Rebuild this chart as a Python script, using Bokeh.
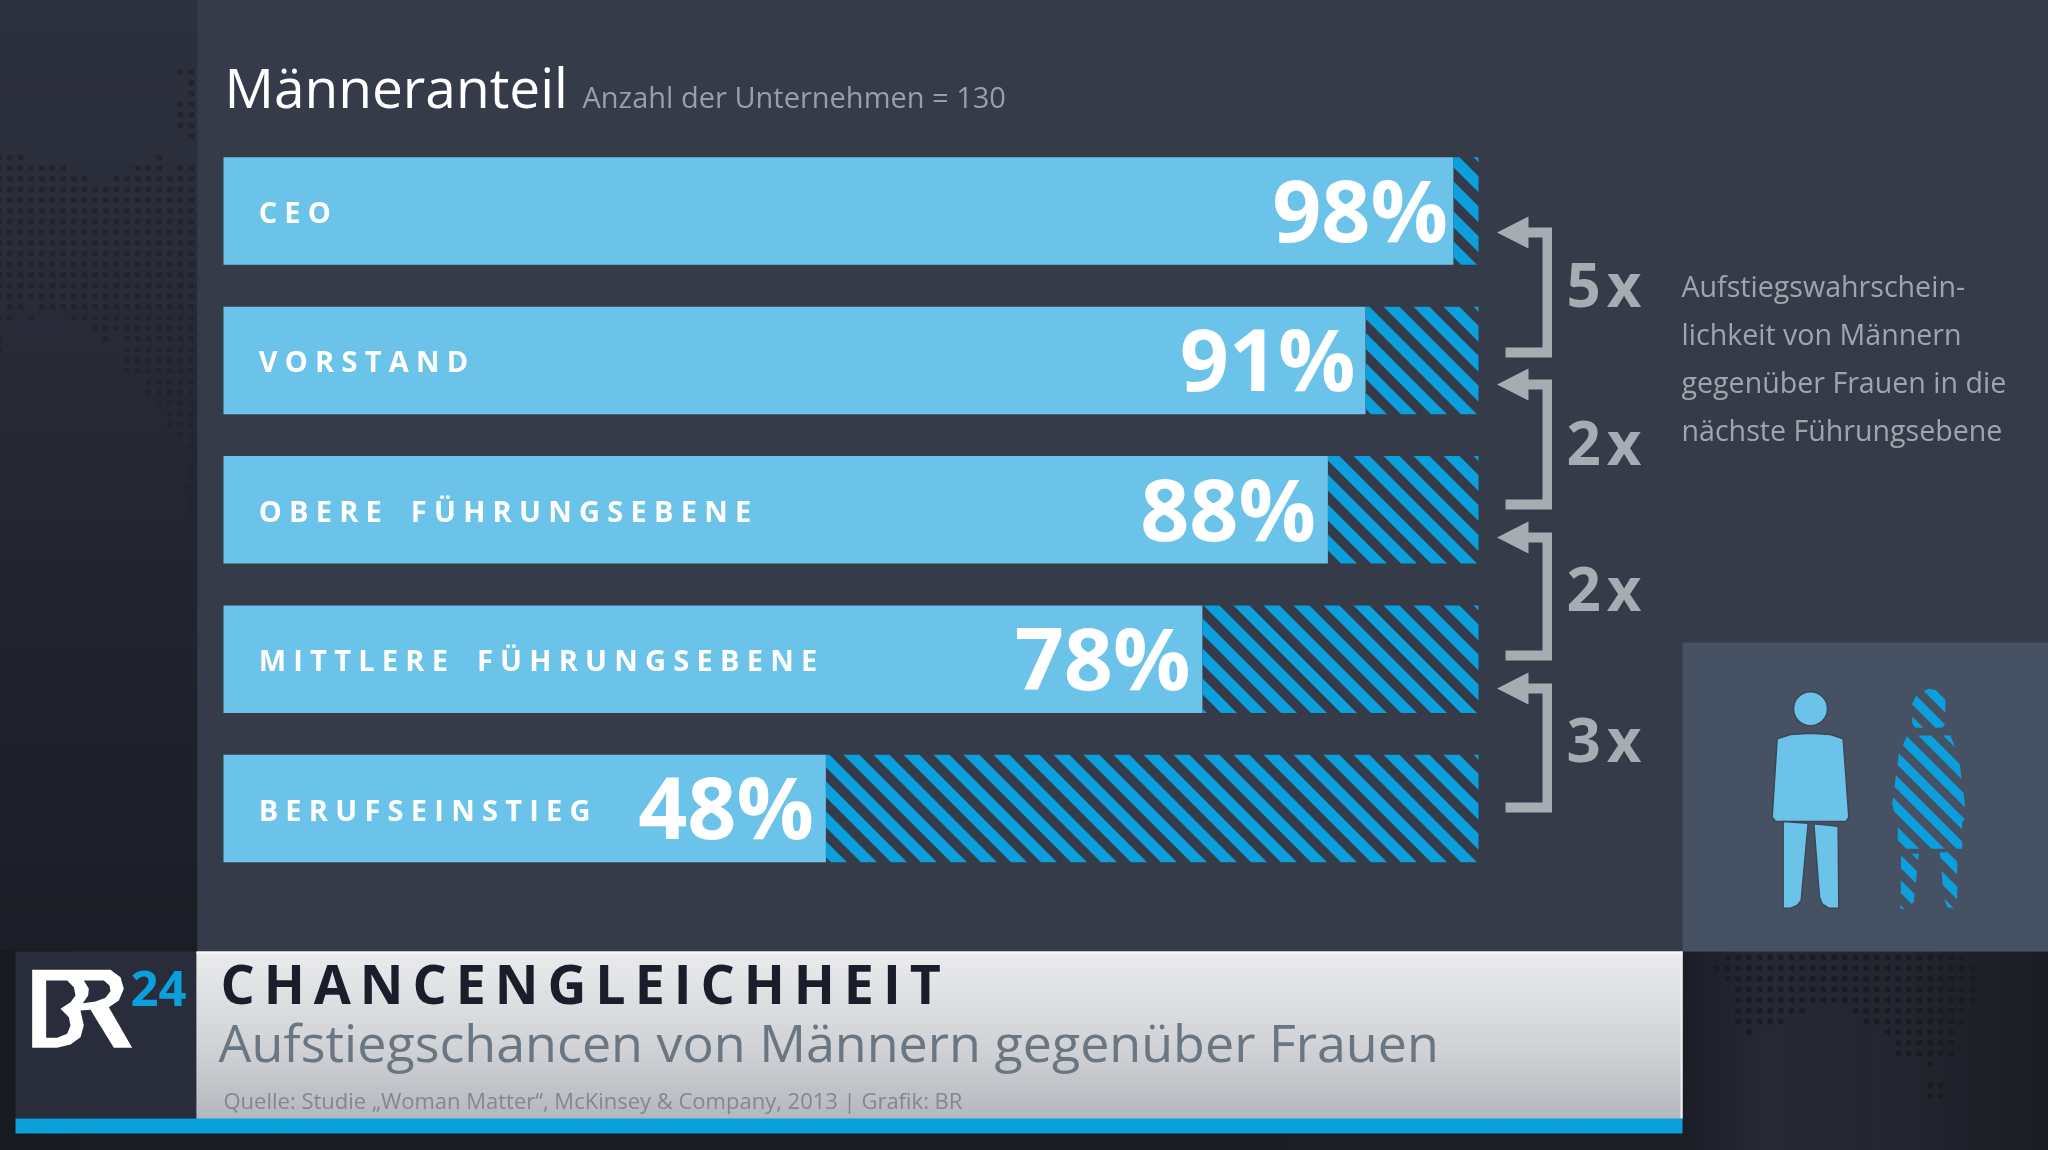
from bokeh.plotting import figure
from bokeh.models import Range1d
from bokeh.core.properties import value
from bokeh.embed import file_html
from bokeh.resources import INLINE

# ---- chart data ----
categories = ["CEO", "VORSTAND", "OBERE FÜHRUNGSEBENE", "MITTLERE FÜHRUNGSEBENE", "BERUFSEINSTIEG"]
men_share = [98, 91, 88, 78, 48]
share_labels = ["98%", "91%", "88%", "78%", "48%"]
multipliers = ["5x", "2x", "2x", "3x"]
note_lines = ["Aufstiegswahrschein-", "lichkeit von Männern", "gegenüber Frauen in die", "nächste Führungsebene"]

# ---- layout ----
W, H = 2048, 1150
PAD = 2
BAR_L, BAR_R = 223.0, 1478.0
ROW0, ROWSTEP = 210.5, 149.4
BAR_H = 107.5
FONT = "Open Sans"
BASE_K = 0.38   # baseline correction of the svg text, in em
pct_nudge = [0.42, 0.05, -0.1, -0.1, -0.1]

BG_MAIN = "#363b4a"
LIGHT = "#6bc3e9"
BLUE = "#0b9fdc"
GREY = "#a5acb2"

unit = (BAR_R - BAR_L) / 100.0
p = figure(width=W + 2 * PAD, height=H + 2 * PAD, output_backend="svg", toolbar_location=None,
           x_range=Range1d((-PAD - BAR_L) / unit, (W + PAD - BAR_L) / unit),
           y_range=Range1d((H + PAD - ROW0) / ROWSTEP, (-PAD - ROW0) / ROWSTEP),
           min_border=0, min_border_left=0, min_border_right=0, min_border_top=0, min_border_bottom=0,
           outline_line_color=None, background_fill_color=BG_MAIN, border_fill_color=BG_MAIN)
p.styles = {"position": "fixed", "left": f"{-PAD}px", "top": f"{-PAD}px"}
p.extra_x_ranges["px"] = Range1d(-PAD, W + PAD)
p.extra_y_ranges["px"] = Range1d(H + PAD, -PAD)
p.xaxis.visible = False
p.yaxis.visible = False
p.xgrid.visible = False
p.ygrid.visible = False
PX = dict(x_range_name="px", y_range_name="px")


def lerp_hex(stops, t):
    for (t0, c0), (t1, c1) in zip(stops, stops[1:]):
        if t <= t1:
            f = (t - t0) / (t1 - t0)
            rgb = [int(round(int(c0[i:i + 2], 16) * (1 - f) + int(c1[i:i + 2], 16) * f)) for i in (1, 3, 5)]
            return "#%02x%02x%02x" % tuple(rgb)
    return stops[-1][1]


def gradient_v(x0, x1, y0, y1, stops, n):
    ys = [y0 + (y1 - y0) * i / n for i in range(n + 1)]
    p.quad(left=x0, right=x1, top=ys[:-1], bottom=[y + 0.6 for y in ys[1:]],
           color=[lerp_hex(stops, (i + 0.5) / n) for i in range(n)], line_color=None, **PX)


def gradient_h(x0, x1, y0, y1, stops, n):
    xs = [x0 + (x1 - x0) * i / n for i in range(n + 1)]
    p.quad(left=xs[:-1], right=[x + 0.6 for x in xs[1:]], top=y0, bottom=y1,
           color=[lerp_hex(stops, (i + 0.5) / n) for i in range(n)], line_color=None, **PX)


def clip_half(poly, a, keep_ge):
    out = []
    n = len(poly)
    for i in range(n):
        x0, y0 = poly[i]
        x1, y1 = poly[(i + 1) % n]
        u0, u1 = x0 - y0 - a, x1 - y1 - a
        if not keep_ge:
            u0, u1 = -u0, -u1
        if u0 >= 0:
            out.append((x0, y0))
        if (u0 >= 0) != (u1 >= 0):
            f = u0 / (u0 - u1)
            out.append((x0 + (x1 - x0) * f, y0 + (y1 - y0) * f))
    return out


def stripes(poly, lo_u, hi_u, period, width):
    xs_out, ys_out = [], []
    b = lo_u
    while b < hi_u:
        c = clip_half(clip_half(poly, b, True), b + width, False)
        if len(c) >= 3:
            xs_out.append([q[0] for q in c])
            ys_out.append([q[1] for q in c])
        b += period
    return xs_out, ys_out


def label(x, y, text, size, color, bold=False, align="left"):
    p.text(x=[x], y=[y - BASE_K * size], text=[text], text_color=color, text_font=value(FONT),
           text_font_style="bold" if bold else "normal", text_font_size=f"{size}px",
           text_align=align, text_baseline="alphabetic", **PX)


def tracked(s, gap, word_gap):
    return word_gap.join(gap.join(w) for w in s.split(" "))


# ---- backgrounds ----
gradient_v(-3, 197, -3, 950, [(0, "#2d313e"), (0.35, "#282b37"), (0.75, "#1f222b"), (1, "#1b1e26")], 120)
gradient_h(-3, 2051, 950, 1153, [(0, "#181a20"), (0.05, "#1a1c23"), (0.82, "#1c1e26"), (0.86, "#262934"),
                                 (0.93, "#23262f"), (1, "#1a1c23")], 300)
p.quad(left=197, right=W + 3, top=-3, bottom=951, color=BG_MAIN, line_color=None, **PX)
p.quad(left=1682, right=W + 3, top=642, bottom=951, color="#465263", line_color=None, **PX)

# ---- dotted world map ----
DOT = 10.667
left_rows = {0: [(0, 1)], 1: [(0, 0)], 2: [(0, 0)], 3: [(0, 1)], 4: [(0, 1)], 5: [(0, 1)], 6: [(0, 0)],
             8: [(3, 3), (16, 18)], 9: [(0, 1), (3, 5), (12, 18)], 10: [(0, 7), (10, 18)],
             22: [(0, 14), (16, 17)], 23: [(0, 11), (15, 15), (17, 18)], 24: [(0, 9)],
             25: [(0, 6), (8, 8), (18, 18)], 26: [(0, 6), (18, 18)], 27: [(0, 6)], 28: [(0, 6)],
             29: [(0, 4)], 30: [(0, 4)], 31: [(0, 3)], 32: [(0, 2)], 33: [(0, 2)], 34: [(0, 1)]}
for r in range(11, 22):
    left_rows[r] = [(0, 18)]
for r in range(35, 44):
    left_rows[r] = [(0, 0)]
lx, ly = [], []
for r, runs in left_rows.items():
    for a, b in runs:
        for c in range(a, b + 1):
            lx.append(190.7 - DOT * c)
            ly.append(71.7 + DOT * r)
p.rect(lx, ly, width=5.2, height=5.2, color="#21242d", line_color=None, **PX)

right_rows = {0: [(0, 22)], 1: [(-1, 23)], 2: [(0, 23)], 3: [(1, 23)], 4: [(1, 23)], 5: [(1, 7), (12, 22)],
              6: [(1, 5), (13, 22)], 7: [(2, 2), (15, 21)], 8: [(16, 21)], 9: [(16, 21)], 10: [(19, 19)],
              12: [(19, 20)], 13: [(19, 20)]}
rx, ry = [], []
for r, runs in right_rows.items():
    for a, b in runs:
        for c in range(a, b + 1):
            rx.append(1727 + DOT * c)
            ry.append(957 + DOT * r)
p.rect(rx, ry, width=5.2, height=5.2, color="#1a1c24", line_color=None, **PX)

# ---- bars ----
ys = list(range(len(men_share)))
p.hbar(y=ys, left=0, right=men_share, height=BAR_H / ROWSTEP, color=LIGHT, line_color=None)

# ---- hatched remainder of each bar ----
sx, sy = [], []
for i, v in enumerate(men_share):
    top = ROW0 + i * ROWSTEP - BAR_H / 2
    bot = top + BAR_H
    left = BAR_L + v * unit
    rect = [(left, top), (BAR_R, top), (BAR_R, bot), (left, bot)]
    start = 1473 - 30 * 40 - top
    a, b = stripes(rect, start, BAR_R - top + 1, 30, 16)
    sx += a
    sy += b
p.patches(sx, sy, color=BLUE, line_color=None, **PX)

# ---- bar texts ----
LBL = 29
p.text(x=[2.8] * 5, y=[y + (11.5 - BASE_K * LBL) / ROWSTEP for y in ys],
       text=[tracked(c, "\u2005", "\u2005\u2002\u2005") for c in categories], text_color="#ffffff",
       text_font=value(FONT), text_font_style="bold", text_font_size=f"{LBL}px",
       text_align="left", text_baseline="alphabetic")
PCT = 86
p.text(x=[v - 0.85 + n for v, n in zip(men_share, pct_nudge)], y=[y + (30 - BASE_K * PCT) / ROWSTEP for y in ys],
       text=share_labels, text_color="#ffffff", text_font=value(FONT), text_font_style="bold",
       text_font_size=f"{PCT}px", text_align="right", text_baseline="alphabetic")

# ---- brackets and arrows ----
tips = [232, 384, 537, 688]
ends = [357, 509, 660, 812]
text_base = [306, 464, 610, 761]
axs, ays = [], []
for t, e in zip(tips, ends):
    axs.append([1496.5, 1528, 1528, 1551.5, 1551.5, 1505, 1505, 1542, 1542, 1528, 1528])
    ays.append([t, t - 16, t - 5, t - 5, e, e, e - 10, e - 10, t + 5, t + 5, t + 16])
p.patches(axs, ays, color=GREY, line_color=None, **PX)
for m, b in zip(multipliers, text_base):
    label(1566, b, m[0] + "\u200a" + m[1], 60, GREY, bold=True)

# ---- note ----
for line, b in zip(note_lines, [296, 344, 392, 440]):
    label(1681, b, line, 28.6, "#a0a5ac")

# ---- headline ----
label(224, 107, "Männeranteil", 55, "#ffffff")
label(582, 107, "Anzahl der Unternehmen = 130", 29, "#9a9fa7")

# ---- people ----
def P3(pts):
    return [(1680 + a / 3.0, 640 + b / 3.0) for a, b in pts]


man_body = P3([(290, 295), (330, 282), (390, 278), (450, 282), (488, 295), (505, 530), (497, 543), (285, 543), (275, 530)])
man_l = P3([(308, 543), (383, 548), (362, 780), (350, 795), (330, 803), (308, 803)])
man_r = P3([(400, 550), (473, 557), (475, 803), (445, 803), (425, 790), (417, 770)])
for shape in (man_body, man_l, man_r):
    p.patch([q[0] for q in shape], [q[1] for q in shape], color=LIGHT, line_color="#3d4656", line_width=1.5, **PX)
p.circle(x=[1810], y=[708.3], radius=17, color=LIGHT, line_color="#3d4656", line_width=1.5, **PX)

woman_parts = [
    [(745, 145), (775, 150), (795, 180), (795, 250), (785, 262), (705, 262), (695, 250), (695, 190), (710, 160)],
    [(680, 285), (810, 285), (835, 350), (858, 530), (845, 545), (845, 625), (652, 625), (652, 555), (635, 490), (655, 340)],
    [(662, 640), (715, 640), (700, 785), (670, 805), (660, 805)],
    [(778, 635), (830, 635), (830, 805), (800, 800), (790, 770)],
]
wx, wy = [], []
for part in woman_parts:
    shape = P3(part)
    a, b = stripes(shape, 1680 - 640 + (578 - 75 * 12) / 3.0, 1680 - 640 + 640 / 3.0, 25, 13)
    wx += a
    wy += b
p.patches(wx, wy, color=BLUE, line_color=None, **PX)

# ---- lower banner ----
p.quad(left=15, right=196, top=951, bottom=1118, color="#292c3b", line_color=None, **PX)
gradient_v(196, 1682, 951, 1118, [(0, "#f0f1f2"), (0.03, "#e9eaec"), (0.6, "#cfd1d5"), (1, "#b4b7bd")], 167)
p.quad(left=196, right=1682, top=951, bottom=953, color="#f8f8f9", line_color=None, **PX)
p.quad(left=1680, right=1682, top=951, bottom=1118, color="#eeeeef", line_color=None, **PX)
p.quad(left=15, right=1682, top=1118, bottom=1133, color=BLUE, line_color=None, **PX)


def L(pts):
    return [25 + a / 3.0 for a, _ in pts], [960 + b / 3.0 for _, b in pts]


br_outer = [(20, 28), (255, 28), (285, 50), (295, 85), (280, 120), (250, 140), (320, 262), (265, 262), (195, 148),
            (165, 150), (175, 195), (165, 230), (135, 252), (95, 262), (20, 262)]
br_c1 = [(62, 60), (125, 60), (145, 80), (150, 105), (135, 125), (105, 145), (130, 170), (135, 195), (125, 220), (95, 232), (62, 232)]
br_c2 = [(175, 60), (235, 60), (252, 75), (255, 92), (240, 112), (210, 123), (172, 128), (188, 105), (190, 85)]
x_, y_ = L(br_outer)
p.patch(x_, y_, color="#ffffff", line_color=None, **PX)
for c in (br_c1, br_c2):
    x_, y_ = L(c)
    p.patch(x_, y_, color="#292c3b", line_color=None, **PX)
label(130, 1007, "24", 49, BLUE, bold=True)

label(220, 1003, "\u2009".join("CHANCENGLEICHHEIT"), 53.8, "#1a1e2b", bold=True)
label(218, 1061, "Aufstiegschancen von Männern gegenüber Frauen", 52, "#6b7683")
label(223, 1108, "Quelle: Studie „Woman Matter“, McKinsey & Company, 2013 | Grafik: BR", 22, "#808892")

open("out.html", "w").write(file_html(p, INLINE))
